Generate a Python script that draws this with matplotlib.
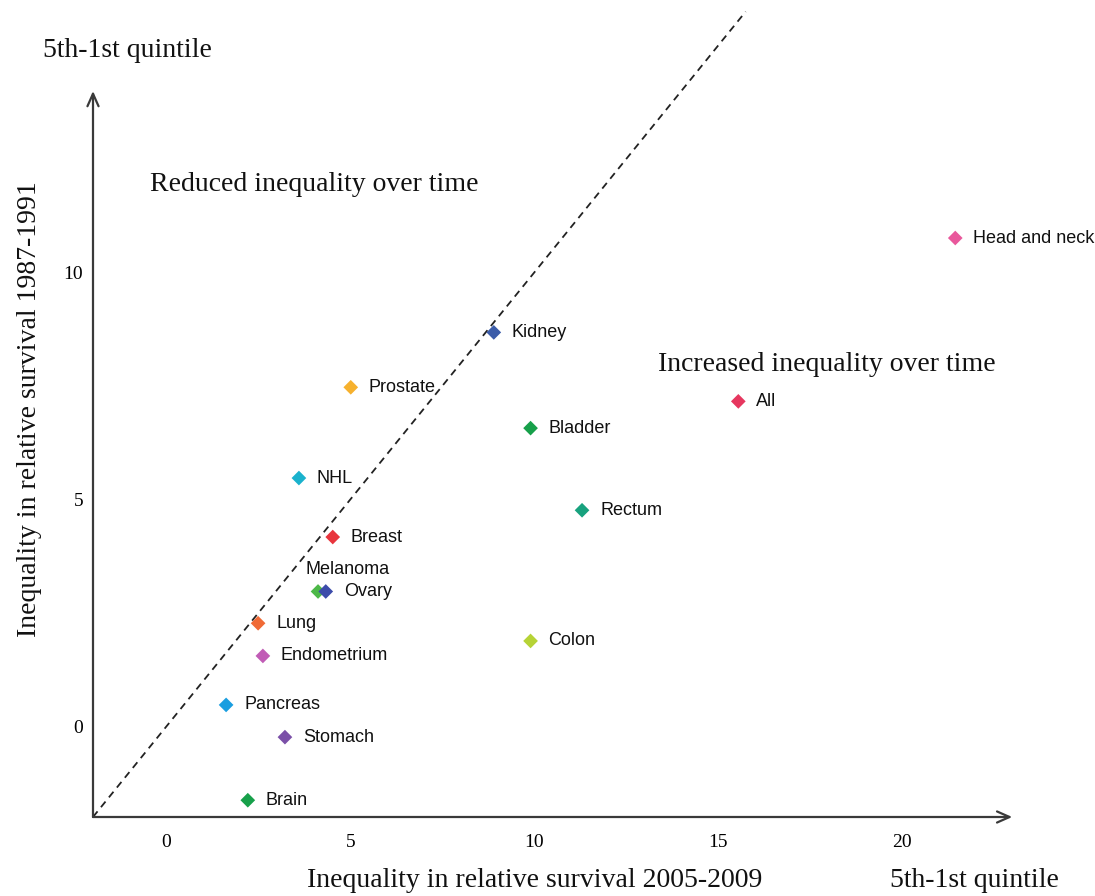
import matplotlib
matplotlib.use("Agg")
import matplotlib.pyplot as plt

# Inequality (5th - 1st quintile) in relative survival, by cancer site
sites = ["Head and neck", "Kidney", "Prostate", "All", "Bladder", "NHL", "Rectum",
         "Breast", "Melanoma", "Ovary", "Lung", "Colon", "Endometrium", "Pancreas",
         "Stomach", "Brain"]
ineq_2005_2009 = [21.45, 8.9, 5.01, 15.55, 9.9, 3.6, 11.3, 4.52, 4.12, 4.33,
                  2.49, 9.9, 2.62, 1.62, 3.22, 2.21]
ineq_1987_1991 = [10.76, 8.68, 7.47, 7.16, 6.57, 5.47, 4.76, 4.17, 2.97, 2.97,
                  2.27, 1.88, 1.55, 0.47, -0.24, -1.63]
site_colors = ["#e9589c", "#3b5ca9", "#f6b12e", "#e6375f", "#17a04a", "#1ab2cd",
               "#18a27e", "#e8353d", "#4db848", "#3c4caa", "#f06a36", "#b6d336",
               "#c15cb6", "#1a9ee0", "#7b50a8", "#17a04a"]

x_ticks = [0, 5, 10, 15, 20]
y_ticks = [0, 5, 10]

serif = ["Liberation Serif", "DejaVu Serif"]
sans = ["Liberation Sans", "DejaVu Sans"]

fig = plt.figure(figsize=(10.95, 8.96), dpi=100)
ax = fig.add_axes([93 / 1095, 79 / 896, 919.25 / 1095, 726 / 896])
ax.set_xlim(-2, 23)
ax.set_ylim(-2, 14)
for s in ax.spines.values():
    s.set_visible(False)

ax.set_xticks(x_ticks)
ax.set_yticks(y_ticks)
ax.tick_params(length=0, labelsize=14)
ax.tick_params(axis="x", pad=12.5)
ax.tick_params(axis="y", pad=7)
for lab in ax.get_xticklabels() + ax.get_yticklabels():
    lab.set_family(serif)

# Arrowed axes
arrow = dict(arrowstyle="->,head_length=0.9,head_width=0.4", color="#3a3a3a", lw=1.6,
             shrinkA=0, shrinkB=0)
ax.annotate("", xy=(1, 0), xytext=(0, 0), xycoords="axes fraction", arrowprops=arrow)
ax.annotate("", xy=(0, 1), xytext=(0, 0), xycoords="axes fraction", arrowprops=arrow)

# Line of equal inequality in both periods
ax.plot([-2, 15.75], [-2, 15.75], ls=(0, (4, 3)), color="#222222", lw=1.3, clip_on=False)

ax.scatter(ineq_2005_2009, ineq_1987_1991, marker="D", s=56, c=site_colors,
           linewidths=0, zorder=3, clip_on=False)

for name, xv, yv in zip(sites, ineq_2005_2009, ineq_1987_1991):
    if name == "Melanoma":
        ax.annotate(name, (xv, yv), xytext=(-9, 15.5), textcoords="offset points",
                    ha="left", va="center", fontsize=13, family=sans, color="#111111")
    else:
        ax.annotate(name, (xv, yv), xytext=(13, 0), textcoords="offset points",
                    ha="left", va="center", fontsize=13, family=sans, color="#111111")

txt = dict(family=serif, color="#111111", clip_on=False)
ax.text(-3.37, 14.90, "5th-1st quintile", fontsize=20, ha="left", va="center", **txt)
ax.text(-0.46, 11.93, "Reduced inequality over time", fontsize=20, ha="left", va="center", **txt)
ax.text(13.36, 7.97, "Increased inequality over time", fontsize=20, ha="left", va="center", **txt)
ax.text(10.0, -3.67, "Inequality in relative survival 2005-2009", fontsize=20,
        ha="center", va="bottom", **txt)
ax.text(19.67, -3.67, "5th-1st quintile", fontsize=20, ha="left", va="bottom", **txt)
ax.text(-3.73, 6.99, "Inequality in relative survival 1987-1991", fontsize=20,
        ha="center", va="center", rotation=90, **txt)

fig.savefig("out.png", dpi=100)
